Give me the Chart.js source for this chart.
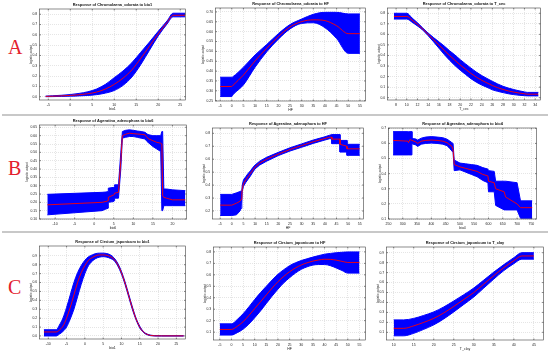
<!DOCTYPE html>
<html>
<head>
<meta charset="utf-8">
<script src="https://cdn.jsdelivr.net/npm/chart.js@4.4.0/dist/chart.umd.min.js"></script>
<style>
body { margin: 0; background: #fff; }
#page { position: relative; width: 550px; height: 354px; overflow: hidden; background: #fff; }
.panel { position: absolute; }
.sep { position: absolute; left: 2px; width: 546px; height: 2px; background: #c8c8c8; }
.letter { position: absolute; left: 8px; font-family: "Liberation Serif", "Times New Roman", serif; font-size: 20px; line-height: 20px; color: #e3202c; }
</style>
</head>
<body>
<div id="page">
	<div class="letter" style="top:37px">A</div>
	<div class="letter" style="top:158px">B</div>
	<div class="letter" style="top:277px">C</div>
	<div class="sep" style="top:114px"></div>
	<div class="sep" style="top:231px"></div>
</div>
<script>
// Row A - Chromolaena odorata
var a1X    = [-5.6, -4, -2, 0, 2, 4, 6, 8, 10, 12, 14, 16, 18, 20, 22, 23.4, 26.1];
var a1Mean = [0.003, 0.005, 0.008, 0.012, 0.019, 0.029, 0.045, 0.075, 0.120, 0.180, 0.260, 0.370, 0.490, 0.610, 0.720, 0.790, 0.790];
var a1Low  = [0.000, 0.001, 0.003, 0.005, 0.008, 0.012, 0.020, 0.035, 0.060, 0.110, 0.190, 0.310, 0.450, 0.590, 0.705, 0.775, 0.775];
var a1High = [0.006, 0.009, 0.014, 0.021, 0.032, 0.048, 0.075, 0.120, 0.185, 0.250, 0.330, 0.430, 0.530, 0.635, 0.735, 0.810, 0.810];

var a2X    = [-5, 0, 0.5, 5, 10, 15, 20, 25, 30, 35, 40, 45, 50, 55];
var a2Mean = [0.322, 0.322, 0.328, 0.380, 0.452, 0.516, 0.575, 0.624, 0.651, 0.660, 0.656, 0.630, 0.590, 0.590];
var a2Low  = [0.271, 0.271, 0.280, 0.330, 0.420, 0.498, 0.562, 0.614, 0.642, 0.645, 0.620, 0.565, 0.490, 0.490];
var a2High = [0.369, 0.369, 0.372, 0.420, 0.482, 0.535, 0.590, 0.636, 0.664, 0.688, 0.698, 0.698, 0.690, 0.690];

var a3X    = [7.6, 10, 11, 12, 13, 14, 15, 16, 17, 18, 19, 20, 21, 22, 23, 24, 25, 26, 27, 28, 29, 30, 31, 32, 32.6, 34.6];
var a3Mean = [0.770, 0.770, 0.735, 0.695, 0.650, 0.600, 0.550, 0.500, 0.450, 0.400, 0.355, 0.310, 0.270, 0.230, 0.195, 0.165, 0.140, 0.115, 0.095, 0.078, 0.064, 0.053, 0.044, 0.037, 0.033, 0.033];
var a3Low  = [0.745, 0.745, 0.715, 0.680, 0.640, 0.588, 0.530, 0.470, 0.410, 0.355, 0.305, 0.260, 0.220, 0.180, 0.147, 0.120, 0.098, 0.075, 0.060, 0.048, 0.037, 0.029, 0.023, 0.019, 0.017, 0.017];
var a3High = [0.800, 0.800, 0.755, 0.710, 0.660, 0.612, 0.570, 0.530, 0.490, 0.445, 0.405, 0.360, 0.320, 0.280, 0.243, 0.210, 0.182, 0.155, 0.130, 0.108, 0.091, 0.077, 0.065, 0.055, 0.050, 0.050];

// Row B - Ageratina adenophora
var b1X    = [-12, 2, 3, 3.6, 3.6, 5, 5.2, 5.2, 6.2, 6.8, 7.2, 8, 9, 10, 11, 12, 13, 13.5, 14, 15, 16, 17, 17.3, 17.5, 17.8, 18.5, 20, 23.3];
var b1Mean = [0.185, 0.200, 0.205, 0.210, 0.230, 0.245, 0.250, 0.255, 0.260, 0.450, 0.600, 0.608, 0.615, 0.612, 0.610, 0.608, 0.605, 0.590, 0.580, 0.570, 0.560, 0.555, 0.550, 0.240, 0.230, 0.225, 0.215, 0.215];
var b1Low  = [0.125, 0.150, 0.160, 0.165, 0.200, 0.205, 0.210, 0.225, 0.225, 0.400, 0.585, 0.590, 0.595, 0.595, 0.590, 0.585, 0.580, 0.565, 0.555, 0.535, 0.520, 0.505, 0.150, 0.150, 0.180, 0.180, 0.180, 0.180];
var b1High = [0.248, 0.260, 0.262, 0.265, 0.285, 0.290, 0.295, 0.305, 0.305, 0.500, 0.625, 0.632, 0.635, 0.632, 0.628, 0.625, 0.620, 0.610, 0.605, 0.600, 0.600, 0.600, 0.625, 0.625, 0.280, 0.280, 0.275, 0.270];

var b2X    = [-5, 0, 2, 3.5, 4, 4.3, 4.5, 5, 6, 7, 8, 9, 10, 12, 15, 20, 25, 30, 35, 40, 42, 43, 43, 46.5, 46.5, 49.5, 49.5, 55];
var b2Mean = [0.245, 0.245, 0.260, 0.275, 0.290, 0.330, 0.370, 0.410, 0.440, 0.465, 0.490, 0.515, 0.540, 0.570, 0.600, 0.640, 0.675, 0.705, 0.735, 0.760, 0.770, 0.770, 0.755, 0.755, 0.715, 0.700, 0.680, 0.680];
var b2Low  = [0.165, 0.165, 0.170, 0.200, 0.220, 0.260, 0.350, 0.390, 0.420, 0.445, 0.470, 0.500, 0.525, 0.555, 0.585, 0.628, 0.663, 0.692, 0.722, 0.748, 0.758, 0.758, 0.720, 0.720, 0.655, 0.655, 0.630, 0.630];
var b2High = [0.328, 0.328, 0.340, 0.350, 0.355, 0.360, 0.400, 0.440, 0.465, 0.490, 0.510, 0.535, 0.555, 0.585, 0.615, 0.653, 0.688, 0.718, 0.748, 0.773, 0.785, 0.790, 0.790, 0.790, 0.745, 0.745, 0.715, 0.715];

var b3X    = [266, 318, 320, 325, 332, 332, 345, 352, 365, 380, 400, 420, 440, 455, 465, 472, 476, 480, 500, 520, 540, 560, 580, 598, 600, 620, 625, 655, 660, 700, 712, 753];
var b3Mean = [0.620, 0.615, 0.605, 0.625, 0.620, 0.620, 0.610, 0.600, 0.615, 0.620, 0.622, 0.620, 0.615, 0.605, 0.590, 0.580, 0.560, 0.460, 0.445, 0.435, 0.425, 0.415, 0.395, 0.385, 0.350, 0.340, 0.300, 0.280, 0.245, 0.200, 0.175, 0.175];
var b3Low  = [0.524, 0.524, 0.524, 0.524, 0.524, 0.598, 0.590, 0.580, 0.595, 0.600, 0.602, 0.600, 0.595, 0.585, 0.565, 0.550, 0.540, 0.420, 0.425, 0.410, 0.395, 0.380, 0.355, 0.340, 0.280, 0.280, 0.190, 0.160, 0.160, 0.160, 0.105, 0.105];
var b3High = [0.678, 0.678, 0.678, 0.678, 0.678, 0.632, 0.630, 0.622, 0.635, 0.642, 0.645, 0.642, 0.638, 0.628, 0.615, 0.605, 0.600, 0.490, 0.470, 0.465, 0.460, 0.455, 0.440, 0.430, 0.420, 0.415, 0.350, 0.350, 0.350, 0.340, 0.220, 0.220];

// Row C - Cirsium japonicum
var c1X    = [-11.2, -7.8, -7, -6, -5, -4, -3, -2, -1, 0, 1, 2, 3, 4, 5, 6, 7, 8, 9, 10, 11, 12, 13, 14, 15, 16, 17, 18, 19, 21, 27];
var c1Mean = [0.045, 0.045, 0.065, 0.110, 0.200, 0.320, 0.460, 0.600, 0.710, 0.790, 0.850, 0.880, 0.900, 0.910, 0.910, 0.905, 0.890, 0.860, 0.800, 0.710, 0.590, 0.450, 0.310, 0.190, 0.100, 0.045, 0.018, 0.006, 0.002, 0.001, 0.001];
var c1Low  = [0.000, 0.000, 0.020, 0.050, 0.100, 0.190, 0.300, 0.440, 0.580, 0.700, 0.790, 0.840, 0.870, 0.885, 0.890, 0.885, 0.870, 0.845, 0.785, 0.695, 0.575, 0.435, 0.295, 0.180, 0.090, 0.040, 0.014, 0.003, 0.000, 0.000, 0.000];
var c1High = [0.070, 0.070, 0.120, 0.200, 0.320, 0.460, 0.600, 0.710, 0.790, 0.850, 0.890, 0.910, 0.925, 0.930, 0.930, 0.925, 0.910, 0.875, 0.815, 0.725, 0.605, 0.465, 0.325, 0.200, 0.110, 0.050, 0.022, 0.009, 0.004, 0.002, 0.002];

var c2X    = [-5, 0, 2.5, 5, 7.5, 10, 12.5, 15, 17.5, 20, 22.5, 25, 27.5, 30, 32.5, 35, 37.5, 40, 42.5, 45, 47.5, 50, 55];
var c2Mean = [0.123, 0.123, 0.150, 0.190, 0.245, 0.305, 0.365, 0.425, 0.485, 0.540, 0.587, 0.627, 0.660, 0.686, 0.705, 0.720, 0.730, 0.736, 0.735, 0.728, 0.718, 0.708, 0.708];
var c2Low  = [0.074, 0.074, 0.095, 0.125, 0.170, 0.225, 0.285, 0.350, 0.415, 0.475, 0.530, 0.575, 0.615, 0.648, 0.670, 0.685, 0.690, 0.690, 0.680, 0.660, 0.638, 0.615, 0.615];
var c2High = [0.172, 0.172, 0.210, 0.260, 0.320, 0.385, 0.445, 0.500, 0.555, 0.605, 0.645, 0.680, 0.705, 0.725, 0.740, 0.755, 0.768, 0.780, 0.787, 0.793, 0.797, 0.800, 0.800];

var c3X    = [10, 12.5, 15, 17.5, 20, 22.5, 25, 27.5, 30, 32.5, 35, 37.5, 40, 42, 45];
var c3Mean = [0.140, 0.140, 0.165, 0.200, 0.240, 0.295, 0.360, 0.430, 0.500, 0.585, 0.670, 0.750, 0.820, 0.867, 0.867];
var c3Low  = [0.065, 0.065, 0.090, 0.130, 0.175, 0.235, 0.305, 0.380, 0.455, 0.545, 0.635, 0.720, 0.790, 0.835, 0.835];
var c3High = [0.225, 0.225, 0.240, 0.270, 0.305, 0.355, 0.415, 0.478, 0.545, 0.625, 0.705, 0.780, 0.850, 0.900, 0.900];

// tick values
var bio1Ticks = [-5, 0, 5, 10, 15, 20, 25];
var hfTicks   = [-5, 0, 5, 10, 15, 20, 25, 30, 35, 40, 45, 50, 55];
var cecTicks  = [8, 10, 12, 14, 16, 18, 20, 22, 24, 26, 28, 30, 32, 34];
var bio6Ticks = [-10, -5, 0, 5, 10, 15, 20];
var bio4Ticks = [250, 300, 350, 400, 450, 500, 550, 600, 650, 700, 750];
var c1Ticks   = [-10, -5, 0, 5, 10, 15, 20, 25];
var clayTicks = [10, 15, 20, 25, 30, 35, 40, 45];
var y08Ticks  = [0, 0.1, 0.2, 0.3, 0.4, 0.5, 0.6, 0.7, 0.8];
var y09Ticks  = [0, 0.1, 0.2, 0.3, 0.4, 0.5, 0.6, 0.7, 0.8, 0.9];
var a2YTicks  = [0.25, 0.30, 0.35, 0.40, 0.45, 0.50, 0.55, 0.60, 0.65, 0.70];
var b1YTicks  = [0.10, 0.15, 0.20, 0.25, 0.30, 0.35, 0.40, 0.45, 0.50, 0.55, 0.60, 0.65];
var b2YTicks  = [0.2, 0.3, 0.4, 0.5, 0.6, 0.7, 0.8];
var b3YTicks  = [0.1, 0.2, 0.3, 0.4, 0.5, 0.6, 0.7];
var c2YTicks  = [0.1, 0.2, 0.3, 0.4, 0.5, 0.6, 0.7, 0.8];
var c3YTicks  = [0.1, 0.2, 0.3, 0.4, 0.5, 0.6, 0.7, 0.8, 0.9];

var xAxisH = 12, titleH = 8, padR = 4;
var fontFam = '"Liberation Sans", Arial, sans-serif';

// box round the plot with small inward ticks, like matlab
var boxPlugin = {
	id: 'box',
	afterDraw: function(chart) {
		var a = chart.chartArea, ctx = chart.ctx;
		var xs = chart.scales.x, ys = chart.scales.y;
		ctx.save();
		ctx.strokeStyle = '#404040';
		ctx.lineWidth = 0.6;
		ctx.strokeRect(a.left, a.top, a.right - a.left, a.bottom - a.top);
		ctx.beginPath();
		xs.ticks.forEach(function(t) {
			var px = xs.getPixelForValue(t.value);
			ctx.moveTo(px, a.bottom); ctx.lineTo(px, a.bottom - 1.5);
			ctx.moveTo(px, a.top); ctx.lineTo(px, a.top + 1.5);
		});
		ys.ticks.forEach(function(t) {
			var py = ys.getPixelForValue(t.value);
			ctx.moveTo(a.left, py); ctx.lineTo(a.left + 1.5, py);
			ctx.moveTo(a.right, py); ctx.lineTo(a.right - 1.5, py);
		});
		ctx.stroke();
		ctx.restore();
	}
};

function pts(xs, ys)
{
	return xs.map(function(x, i) { return {x: x, y: ys[i]}; });
}

function makePanel(p)
{
	var L = p.box[0], T = p.box[1], R = p.box[2], B = p.box[3];
	// two decimal labels are wider, matlab pushes the ylabel out further
	var yW = p.yDec == 2 ? 14.5 : 10.5;
	var holder = document.createElement('div');
	holder.className = 'panel';
	holder.style.left = (L - yW) + 'px';
	holder.style.top = (T - titleH) + 'px';
	holder.style.width = (R - L + yW + padR) + 'px';
	holder.style.height = (B - T + titleH + xAxisH) + 'px';
	var cv = document.createElement('canvas');
	holder.appendChild(cv);
	document.getElementById('page').appendChild(holder);

	var interp = p.smooth ? 'monotone' : 'default';
	new Chart(cv.getContext('2d'), {
		type: 'line',
		data: {
			datasets: [
				{ data: pts(p.xs, p.low), borderColor: '#0000ff', borderWidth: 1, pointRadius: 0, fill: false, order: 2, cubicInterpolationMode: interp },
				{ data: pts(p.xs, p.high), borderColor: '#0000ff', backgroundColor: '#0000ff', borderWidth: 1, pointRadius: 0, fill: '-1', order: 2, cubicInterpolationMode: interp },
				{ data: pts(p.xs, p.mean), borderColor: '#ff0000', borderWidth: 0.9, pointRadius: 0, fill: false, order: 0, cubicInterpolationMode: interp }
			]
		},
		options: {
			responsive: true,
			maintainAspectRatio: false,
			animation: false,
			devicePixelRatio: 1,
			layout: { padding: { left: 0, right: padR, top: 0, bottom: 0 } },
			plugins: {
				legend: { display: false },
				tooltip: { enabled: false },
				title: {
					display: true,
					text: p.title,
					fullSize: false,
					color: '#111',
					font: { family: fontFam, size: 3.9, weight: 'bold', lineHeight: 1 },
					padding: { top: 2, bottom: titleH - 2 - 3.9 }
				}
			},
			scales: {
				x: {
					type: 'linear',
					min: p.xMin,
					max: p.xMax,
					afterBuildTicks: function(s) { s.ticks = p.xTicks.map(function(v) { return {value: v}; }); },
					afterFit: function(s) { s.height = xAxisH; s.paddingLeft = 0; s.paddingRight = 0; },
					ticks: { autoSkip: false, maxRotation: 0, padding: 2.5, color: '#222', font: { family: fontFam, size: 3.5 },
						callback: function(v) { return String(v); } },
					grid: { color: '#d4d4d4', lineWidth: 0.6, drawTicks: false },
					border: { display: false, dash: [1, 1] },
					title: { display: true, text: p.xLabel, color: '#222', font: { family: fontFam, size: 3.5 }, padding: { top: 0, bottom: 0.5 } }
				},
				y: {
					type: 'linear',
					min: p.yMin,
					max: p.yMax,
					afterBuildTicks: function(s) { s.ticks = p.yTicks.map(function(v) { return {value: v}; }); },
					afterFit: function(s) { s.width = yW; s.paddingTop = 0; s.paddingBottom = 0; },
					ticks: { autoSkip: false, padding: 2.4, color: '#222', font: { family: fontFam, size: 3.4 },
						callback: function(v) { return v.toFixed(p.yDec); } },
					grid: { color: '#d4d4d4', lineWidth: 0.6, drawTicks: false },
					border: { display: false, dash: [1, 1] },
					title: { display: true, text: 'logistic output', color: '#222', font: { family: fontFam, size: 3.2 }, padding: { top: 0.6, bottom: 0 } }
				}
			}
		},
		plugins: [boxPlugin]
	});
}

makePanel({ box: [39, 9, 185, 100], xMin: -7, xMax: 26.2, yMin: -0.032, yMax: 0.851, xTicks: bio1Ticks, yTicks: y08Ticks, yDec: 1,
	title: 'Response of Chromolaena_odorata to bio1', xLabel: 'bio1', xs: a1X, mean: a1Mean, low: a1Low, high: a1High, smooth: true });
makePanel({ box: [215, 8, 365, 101], xMin: -7, xMax: 57.4, yMin: 0.2485, yMax: 0.72, xTicks: hfTicks, yTicks: a2YTicks, yDec: 2,
	title: 'Response of Chromolaena_odorata to HF', xLabel: 'HF', xs: a2X, mean: a2Mean, low: a2Low, high: a2High, smooth: true });
makePanel({ box: [387, 8, 540, 100], xMin: 6.4, xMax: 35, yMin: -0.022, yMax: 0.85, xTicks: cecTicks, yTicks: y08Ticks, yDec: 1,
	title: 'Response of Chromolaena_odorata to T_cec', xLabel: 'T_cec', xs: a3X, mean: a3Mean, low: a3Low, high: a3High, smooth: true });

makePanel({ box: [39, 125, 186, 219], xMin: -14, xMax: 23.6, yMin: 0.10, yMax: 0.664, xTicks: bio6Ticks, yTicks: b1YTicks, yDec: 2,
	title: 'Response of Ageratina_adenophora to bio6', xLabel: 'bio6', xs: b1X, mean: b1Mean, low: b1Low, high: b1High, smooth: false });
makePanel({ box: [212, 128, 363, 219], xMin: -8.3, xMax: 56.6, yMin: 0.138, yMax: 0.841, xTicks: hfTicks, yTicks: b2YTicks, yDec: 1,
	title: 'Response of Ageratina_adenophora to HF', xLabel: 'HF', xs: b2X, mean: b2Mean, low: b2Low, high: b2High, smooth: false });
makePanel({ box: [388, 128, 536, 219], xMin: 250, xMax: 768, yMin: 0.10, yMax: 0.702, xTicks: bio4Ticks, yTicks: b3YTicks, yDec: 1,
	title: 'Response of Ageratina_adenophora to bio4', xLabel: 'bio4', xs: b3X, mean: b3Mean, low: b3Low, high: b3High, smooth: false });

makePanel({ box: [39, 246, 185, 339], xMin: -12.4, xMax: 27.5, yMin: -0.034, yMax: 1.01, xTicks: c1Ticks, yTicks: y09Ticks, yDec: 1,
	title: 'Response of Cirsium_japonicum to bio1', xLabel: 'bio1', xs: c1X, mean: c1Mean, low: c1Low, high: c1High, smooth: true });
makePanel({ box: [213, 247, 365, 340], xMin: -7.7, xMax: 57.6, yMin: 0.031, yMax: 0.843, xTicks: hfTicks, yTicks: c2YTicks, yDec: 1,
	title: 'Response of Cirsium_japonicum to HF', xLabel: 'HF', xs: c2X, mean: c2Mean, low: c2Low, high: c2High, smooth: true });
makePanel({ box: [386, 247, 543, 340], xMin: 8.2, xMax: 47.4, yMin: 0.023, yMax: 0.957, xTicks: clayTicks, yTicks: c3YTicks, yDec: 1,
	title: 'Response of Cirsium_japonicum to T_clay', xLabel: 'T_clay', xs: c3X, mean: c3Mean, low: c3Low, high: c3High, smooth: true });
</script>
</body>
</html>
